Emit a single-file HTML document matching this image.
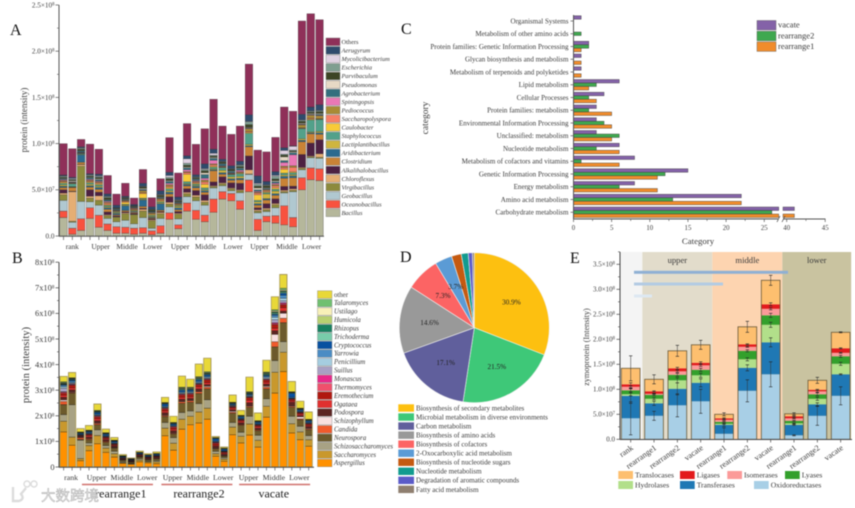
<!DOCTYPE html>
<html lang="en">
<head>
<meta charset="utf-8">
<title>Multi-panel proteomics figure</title>
<style>
html,body{margin:0;padding:0;background:#fff;}
#figure{display:block;width:855px;height:508px;filter:blur(0.4px);font-family:"Liberation Serif","Noto Serif CJK SC",serif;}
text{fill:#3a3a3a;}
</style>
</head>
<body>
<svg id="figure" xmlns="http://www.w3.org/2000/svg" width="855" height="508" viewBox="0 0 855 508">
<rect x="0" y="0" width="855" height="508" fill="#fff"/>
<g id="panelA"></g>
<g id="panelB"></g>
<g id="panelC"></g>
<g id="panelD"></g>
<g id="panelE"></g>
<text x="10" y="35" font-size="16" style="fill:#111">A</text>
<text x="12" y="263" font-size="16" style="fill:#111">B</text>
<text x="401" y="34" font-size="16" style="fill:#111">C</text>
<text x="400" y="262" font-size="16" style="fill:#111">D</text>
<text x="570" y="263" font-size="16" style="fill:#111">E</text>
<text transform="translate(27,120) rotate(-90)" text-anchor="middle" font-size="9">protein (intensity)</text>
<text transform="translate(29,365) rotate(-90)" text-anchor="middle" font-size="10.6">protein (intensity)</text>
<text transform="translate(428,118) rotate(-90)" text-anchor="middle" font-size="9.5">category</text>
<text x="698" y="244" text-anchor="middle" font-size="8.8">Category</text>
<text transform="translate(589,347) rotate(-90)" text-anchor="middle" font-size="8.2">zymoprotein (Intensity)</text>
<g>
<path d="M13 487 L13 501 L19 501 Q25 499 21 494 L26 488" fill="none" stroke="#dcdcdc" stroke-width="2.4"/>
<circle cx="27" cy="484" r="3" fill="none" stroke="#dcdcdc" stroke-width="1.4"/>
<circle cx="34" cy="484" r="3" fill="none" stroke="#dcdcdc" stroke-width="1.4"/>
<text x="41" y="501" font-size="14.5" style="fill:#e6e6e6;stroke:#a8a8a8;stroke-width:.4;font-family:'Noto Sans CJK SC','WenQuanYi Zen Hei',sans-serif">大数跨境</text>
</g>
</svg>
<script>
/* ---------- Panel A data (intensity in units of 1e6) ---------- */
const aSpecies = ["Bacillus","Oceanobacillus","Geobacillus","Virgibacillus","Chloroflexus","Alkalihalobacillus","Clostridium","Aridibacterium","Lactiplantibacillus","Staphylococcus","Caulobacter","Saccharopolyspora","Pediococcus","Spiningopsis","Agrobacterium","Pseudomonas","Parvibaculum","Escherichia","Mycolicibacterium","Aerugyrum","Others"];
const aStacks = [
[20,7,11.5,6,2,3.5,2.5,1.5,1.5,1.5,1,1,1,1,1,.5,1,1,.5,1,34],
[2,6.5,6.5,1,32,.5,4,.5,.5,3,.3,.5,.5,.4,.5,1,1,1,.8,1,31],
[6,12.6,18.8,38,2,.4,2,8,.5,1,.3,.3,.3,.3,1.5,.5,1.5,1,.5,1,8],
[19,11.5,6.5,4,2,7,3,1.5,1.5,1.5,1,1,1,1,1.5,.6,1.2,1,.6,1.1,32],
[9.5,13,11,5,5,4,3,2,1.5,1.5,1,1,1,1,1.5,.8,1.5,1,.7,2,27],
[6,7,6,3,1,3,3,1.5,1,1.5,1,1.5,1,1,1.5,.5,2,1,.5,2.5,20],
[3,7,5.4,5,.5,1,1,1.5,1,.8,.5,.5,.5,.3,1,.3,.8,.3,.2,2.8,12],
[3,6.5,7.6,7,1,1,1.5,5,1,.8,2,1,1,.5,.7,.5,1,.5,.3,1.2,14],
[2,6.5,4.7,10,.5,1,1,1,1,.5,.5,1,.5,.3,.7,.3,.8,.3,.2,1.3,7],
[3,6,11,7,2,1,2,7,1,1,5,1,2,.5,1,1,1.5,.5,.5,3,15],
[1.5,4,3,8,1,1,1,1,1,1,1,.7,1,.3,1,.3,1.5,.5,.2,2.5,10],
[3,8,8,5,1.5,1,1.5,7,1,1,1,1,1.5,.5,1,.5,1.5,.5,.5,4,13],
[18,7,6.5,3,2,6,3,2,1.5,2,1.5,1.5,1.5,1.5,2,1,2,1.5,2,3.5,37.5],
[8,4,6.5,5,1,2,2,2,1.5,1,.7,.8,.7,.5,1,.5,1,.5,.5,3,26],
[27,8.7,7,3,1.5,4,3,1.5,1,2,8,2,1,2,2,1,2,2,5,3,35],
[18,9.7,10.5,4,2,5,3,1.5,1,1.5,1,1,.8,1,1.5,.5,1,.7,.5,2,33],
[15.5,7,11,3,2,6,3,1.5,1,2,4,2.5,2,2,4,2,2,1.5,1,5,38],
[25.6,14.4,12,1.5,1,4,12,1,1,2,1,1.5,1,4,2,1,1.5,1,2,4.5,54],
[40,8,6.5,2,1,6.5,3,1.5,2.5,3,.5,.5,.5,.5,2,.5,1.5,.5,.5,2,36],
[38,8,3,2,1,5.5,3,1.5,2,2.5,.5,.5,.5,.5,1.5,.5,1.5,.5,.5,3,34],
[29,9,9,2,1,7,4,1.5,2,3,.7,.8,.7,1.5,2,.5,1.5,1.5,.5,3.8,38],
[48,12.6,6,.5,4.5,15,10,1,1.5,12,1,1,3,.5,.5,.5,3,3,.5,7,55],
[6,12,7,2,1.5,2,3,1.5,2,1.5,6,2,1,1,1.5,2,2,2,1,8,28],
[15.5,6,5,2,1.5,5,4,1.5,5,1.5,1,1,1,.5,1,.7,2,.8,.5,3.5,32],
[14,8,8.7,3,1.5,5,4,1.5,3,2,1.5,2,1.5,1.5,1.5,1,2,3,1,4,37],
[12,20.6,14,1.5,1.5,4,9,2,1.5,2,4,2,1.5,4,2,4,2,1,4,3,44],
[10,10,28,1.5,1.5,3,9,2,1.5,2,1,5,1.5,12,2,1,1,1,4,.5,37.5],
[50,13,8.7,1.5,1,14,14,1.5,1.5,11,.5,.5,3,.5,.5,1,2,1,.5,6,101],
[61,12.6,11,1,1,14,10,1,1,13,1,1,3,.5,.5,1,1.5,1,.5,4,101],
[60,12.6,11.5,1,4,15,6,1.5,1.5,13,.5,.5,3,.5,1,1,2,1,.5,6,92]
];
const aTickValues = [0,50,100,150,200,250];
const aTickLabels = ["0.0","5.0×10^7","1.0×10^8","1.5×10^8","2.0×10^8","2.5×10^8"];
const aGroupLabels = ["rank","Upper","Middle","Lower","Upper","Middle","Lower","Upper","Middle","Lower"];
const aGroupBarCenters = [1,4.2,7.2,10.1,13.2,16.1,19.2,22.2,25.3,28.1];

/* ---------- Panel B data (intensity in units of 1e6) ---------- */
const bSpecies = ["Aspergillus","Saccharomyces","Schizosaccharomyces","Neurospora","Candida","Schizophyllum","Podospora","Ogataea","Eremothecium","Thermomyces","Monascus","Suillus","Penicillium","Yarrowia","Cryptococcus","Trichoderma","Rhizopus","Humicola","Ustilago","Talaromyces","other"];
const bStacks = [
[137,42,26,39,12,6,10,8,8,4,2,14,6,5,3,2,2,2,2,3,21],
[85,32,126,45,3,2,8,8,10,3,2,3,3,6,4,2,2,1,2,2,20],
[25,8,72,3,6,1,3,2,2,1,1,1,1,2,4,1,1,1,1,1,13],
[64,20,10,13,3,1,6,5,4,2,1,1,1,3,4,2,1,1,1,1,18],
[91,32,22,20,5,2,9,7,7,3,1,2,2,4,6,2,2,1,1,2,25],
[57,17,10,13,3,1,6,4,4,2,1,1,1,3,5,2,1,1,1,1,14],
[39,13,10,12,2,1,5,3,3,2,1,1,1,3,4,1,1,1,1,1,10],
[14,3,3,6,1,1,2,1,2,1,1,1,1,2,2,1,1,.5,.5,.5,4],
[11,2,2,4,1,.5,2,1,1,1,1,.5,.5,1,2,.5,.5,.5,.5,.5,2],
[20,7,5,7,1,.5,3,2,2,1,1,.5,.5,2,3,.5,.5,.5,.5,.5,4],
[16,4,3,6,1,.5,3,2,2,1,1,.5,.5,2,3,.5,.5,.5,.5,.5,4],
[13,7,5,7,1,.5,4,2,2,1,1,.5,.5,2,4,.5,.5,.5,.5,.5,6],
[122,30,22,23,4,2,9,7,7,3,1,2,2,4,8,2,1,1,1,1,20],
[66,27,22,14,3,1,9,6,6,3,1,1,1,3,5,2,1,1,1,1,24],
[148,39,26,36,6,2,8,7,9,3,1,2,3,4,6,3,2,2,2,3,43],
[165,33,21,34,6,2,7,7,8,3,1,2,3,4,5,2,2,2,2,3,31],
[172,43,33,39,7,2,9,8,8,3,1,2,3,5,6,3,2,2,2,3,49],
[187,43,33,42,7,4,6,8,10,3,1,3,3,5,5,3,2,2,2,3,53],
[42,10,9,10,2,1,8,4,6,3,2,1,1,3,8,1,1,1,1,1,4],
[22,9,6,6,1,1,5,3,4,2,1,1,1,2,5,1,1,1,1,1,4],
[126,30,18,36,4,4,6,5,5,2,1,2,2,3,3,2,1,1,1,1,28],
[94,26,16,27,3,1,6,5,5,2,1,1,1,3,5,2,1,1,1,1,19],
[125,43,30,35,4,2,12,10,10,2,1,2,2,4,3,2,2,1,2,2,57],
[78,26,20,18,3,1,6,5,5,2,1,1,1,3,5,2,1,1,1,1,30],
[195,42,30,38,7,4,8,7,8,3,1,3,4,5,3,3,3,2,2,3,46],
[289,81,46,53,20,29,14,10,14,4,3,12,10,8,4,4,3,3,3,4,51],
[373,75,42,74,17,20,8,14,10,4,4,8,10,12,8,4,3,3,3,6,54],
[133,36,29,35,4,2,14,5,6,2,1,1,1,3,16,2,1,1,1,1,40],
[107,30,22,26,3,8,5,5,5,2,1,1,1,3,5,2,1,1,1,1,27],
[81,25,17,23,3,2,7,4,5,2,1,1,1,3,5,2,1,1,1,1,29]
];
const bTickValues = [0,100,200,300,400,500,600,700,800];
const bTickLabels = ["0","1x10^8","2x10^8","3x10^8","4x10^8","5x10^8","6x10^8","7x10^8","8x10^8"];
const bGroupLabels = ["rank","Upper","Middle","Lower","Upper","Middle","Lower","Upper","Middle","Lower"];
const bGroupBarCenters = [1,4,7,10,13,16,19,22,25,28];
const bCohorts = ["rearrange1","rearrange2","vacate"];
const bCohortStartBar = [2.6,12,21.2];
const bCohortEndBar = [11,20.4,29.6];
const bCohortLabelBar = [7.2,16.45,25.3];

/* ---------- Panel C data ---------- */
const cCategories = ["Organismal Systems","Metabolism of other amino acids","Protein families: Genetic Information Processing","Glycan biosynthesis and metabolism","Metabolism of terpenoids and polyketides","Lipid metabolism","Cellular Processes","Protein families: metabolism","Environmental Information Processing","Unclassified: metabolism","Nucleotide metabolism","Metabolism of cofactors and vitamins","Genetic Information Processing","Energy metabolism","Amino acid metabolism","Carbohydrate metabolism"];
const cVacate = [1,0,2,1,1,6,4,3,3,3,6,8,15,8,22,41];
const cRearrange2 = [0,1,2,0,0,3,2,2,4,6,3,1,12,6,13,26];
const cRearrange1 = [0,0,1,1,1,2,3,5,5,5,6,6,11,11,22,41];
const cTickValues = [0,5,10,15,20,25,40,45];
const cMinorTicks = [2.5,7.5,12.5,17.5,22.5,42.5];

/* ---------- Panel D data ---------- */
const dPathways = ["Biosynthesis of secondary metabolites","Microbial metabolism in diverse environments","Carbon metabolism","Biosynthesis of amino acids","Biosynthesis of cofactors","2-Oxocarboxylic acid metabolism","Biosynthesis of nucleotide sugars","Nucleotide metabolism","Degradation of aromatic compounds","Fatty acid metabolism"];
const dShares = [30.9,21.5,17.1,14.6,7.3,3.7,2.1,1.5,0.9,0.4];
const dLabelled = ["30.9%","21.5%","17.1%","14.6%","7.3%","3.7%"];

/* ---------- Panel E data (intensity in units of 1e6) ---------- */
const eSamples = ["rank","rearrange1","rearrange2","vacate","rearrange1","rearrange2","vacate","rearrange1","rearrange2","vacate"];
const eOxidoreductases = [42,47,68,76,11,97,130,8,47,87];
const eTransferases = [45,25,33,37,18,46,64,21,23,43];
const eHydrolases = [3,9,17,15,2,17,35,3,11,21];
const eLyases = [8,8,11,11,4,17,19,5,9,15];
const eIsomerases = [7,2,7,9,4,8,13,5,6,7];
const eLigases = [5,5,6,5,3,5,9,4,3,9];
const eTranslocases = [32,24,35,36,8,35,48,5,19,32];
const eErrOxido = [33,9,23,24,12,22,25,1,19,18];
const eErrTrans = [15,4,12,8,3,6,9,1,3,1];
const eErrHydro = [3,2,5,4,1,3,5,1,3,3];
const eErrLyase = [3,2,3,3,1,2,4,1,3,2];
const eErrIso = [2,1,2,2,1,1,2,1,2,1];
const eErrLigase = [3,1,2,2,1,1,3,1,1,1];
const eErrTransloc = [25,9,11,9,3,11,10,2,6,1];
const eTickValues = [0,50,100,150,200,250,300,350];
const eTickLabels = ["0.0","5.0×10^7","1.0×10^8","1.5×10^8","2.0×10^8","2.5×10^8","3.0×10^8","3.5×10^8"];
const eBands = ["","upper","middle","lower"];

/* ---------- Styling tables ---------- */
const aColors = ["#b5b79b","#f8523f","#b0c8d0","#8c8a3c","#e5ae74","#4d2142","#c98336","#2b6a8f","#cfb53f","#52a18a","#f8ca38","#f77f66","#a98b35","#ea78b5","#336f7e","#e7d9c5","#3c4425","#7f9e90","#e0d2e2","#2f4b6c","#8f3059"];
const bColors = ["#ff9100","#c9982c","#a8a284","#6c5a2c","#f05a2c","#f8dfe0","#5c2422","#e0302f","#b01810","#f0506c","#e8288a","#a8a0c4","#a5cde0","#4a8cc4","#0850a0","#78ccaa","#188060","#b8d070","#f8f0b8","#70c070","#e8d838"];
const dColors = ["#fdc010","#3ec878","#605f9c","#999999","#fc6464","#5b9bd5","#c55a11","#119b8f","#5b5bc8","#8f7f70"];
const eColors = ["#a8cfe6","#1f78b4","#b2df8a","#33a02c","#fb9a99","#e31a1c","#fdbf6f"];
const NS = "http://www.w3.org/2000/svg";
const AX = "#555";

function mk(parent, tag, attrs){
  const el = document.createElementNS(NS, tag);
  for (const k in attrs) el.setAttribute(k, attrs[k]);
  parent.appendChild(el);
  return el;
}
function setLabel(el, str, supSize){
  const parts = String(str).split("^");
  el.appendChild(document.createTextNode(parts[0]));
  if (parts[1]) {
    const s = document.createElementNS(NS, "tspan");
    s.setAttribute("dy", "-2");
    s.setAttribute("font-size", supSize);
    s.textContent = parts[1];
    el.appendChild(s);
  }
}

/* ---------- Panel A ---------- */
(function(){
  const g = document.getElementById("panelA");
  const xA = i => 59.7 + i * 8.83;
  const yA = v => 236 - v * 0.924;
  const w = 7.6;
  aStacks.forEach(function(row, i){
    let cum = 0;
    row.forEach(function(v, s){
      const r = mk(g, "rect", {x:xA(i), y:yA(cum+v), width:w, height:Math.max(0,yA(cum)-yA(cum+v)), fill:aColors[s], stroke:"#2a2a2a", "stroke-width":.25});
      
      
      cum += v;
    });
    const t = mk(g, "line", {x1:xA(i)+w/2, x2:xA(i)+w/2, y1:236, y2:240, stroke:AX, "stroke-width":.7});
    
    
  });
  const xl = mk(g, "line", {x1:59, x2:324, y1:236.3, y2:236.3, stroke:AX, "stroke-width":1});
  
  
  const yl = mk(g, "line", {x1:59, x2:59, y1:yA(250), y2:236.5, stroke:AX, "stroke-width":1});
  
  
  aTickValues.forEach(function(v, i){
    const t = mk(g, "line", {x1:55.5, x2:59, y1:yA(v), y2:yA(v), stroke:AX, "stroke-width":.7});
    
    
    if (i < aTickValues.length - 1) {
      const m = mk(g, "line", {x1:57, x2:59, y1:yA(v+25), y2:yA(v+25), stroke:AX, "stroke-width":.6});
      
      
    }
    const l = mk(g, "text", {x:54.5, y:yA(v)+2.4, "text-anchor":"end", "font-size":7.2});
    
    
    setLabel(l, aTickLabels[i], 4.8);
  });
  aGroupLabels.forEach(function(s, i){
    const l = mk(g, "text", {x:xA(aGroupBarCenters[i])+w/2, y:249, "text-anchor":"middle", "font-size":7.4});
    
    
    l.textContent = s;
  });
  for (let k = aSpecies.length - 1; k >= 0; k--) {
    const row = aSpecies.length - 1 - k;
    const y = 38 + row * 8.55;
    const sw = mk(g, "rect", {x:326, y:y, width:14, height:7.6, fill:aColors[k], stroke:"#777", "stroke-width":.4});
    
    
    const l = mk(g, "text", {x:341.5, y:y+6, "font-size":6.4, "font-style":aSpecies[k]==="Others"?"normal":"italic"});
    
    
    l.textContent = aSpecies[k];
  }
})();

/* ---------- Panel B ---------- */
(function(){
  const g = document.getElementById("panelB");
  const xB = i => 60 + i * 8.45;
  const yB = v => 467 - v * 0.256;
  const w = 7.3;
  bStacks.forEach(function(row, i){
    let cum = 0;
    row.forEach(function(v, s){
      const r = mk(g, "rect", {x:xB(i), y:yB(cum+v), width:w, height:Math.max(0,yB(cum)-yB(cum+v)), fill:bColors[s], stroke:"#111", "stroke-width":.3});
      
      
      cum += v;
    });
    const o = mk(g, "rect", {x:xB(i), y:yB(cum), width:w, height:467-yB(cum), fill:"none", stroke:"#a99a5a", "stroke-width":.8});
    
    
    const t = mk(g, "line", {x1:xB(i)+w/2, x2:xB(i)+w/2, y1:467, y2:470.5, stroke:AX, "stroke-width":.7});
    
    
  });
  const xl = mk(g, "line", {x1:59, x2:314, y1:467.3, y2:467.3, stroke:"#444", "stroke-width":1});
  
  
  const yl = mk(g, "line", {x1:59, x2:59, y1:yB(800), y2:467.5, stroke:"#444", "stroke-width":1});
  
  
  bTickValues.forEach(function(v, i){
    const t = mk(g, "line", {x1:55.5, x2:59, y1:yB(v), y2:yB(v), stroke:"#444", "stroke-width":.7});
    
    
    if (i < bTickValues.length - 1) {
      const m = mk(g, "line", {x1:57, x2:59, y1:yB(v+50), y2:yB(v+50), stroke:"#444", "stroke-width":.6});
      
      
    }
    const l = mk(g, "text", {x:54.5, y:yB(v)+2.8, "text-anchor":"end", "font-size":8.4});
    
    
    setLabel(l, bTickLabels[i], 5.4);
  });
  bGroupLabels.forEach(function(s, i){
    const l = mk(g, "text", {x:xB(bGroupBarCenters[i])+w/2-1, y:480, "text-anchor":"middle", "font-size":7.8});
    
    
    l.textContent = s;
  });
  bCohorts.forEach(function(s, i){
    const ln = mk(g, "line", {x1:xB(bCohortStartBar[i]), x2:xB(bCohortEndBar[i]), y1:484.5, y2:484.5, stroke:"#d0706c", "stroke-width":1.6});
    
    
    const l = mk(g, "text", {x:xB(bCohortLabelBar[i]), y:497.5, "text-anchor":"middle", "font-size":12});
    
    
    l.style.fill = "#222";
    l.textContent = s;
  });
  for (let k = bSpecies.length - 1; k >= 0; k--) {
    const row = bSpecies.length - 1 - k;
    const y = 290.8 + row * 8.42;
    const sw = mk(g, "rect", {x:317.5, y:y, width:14.5, height:7.6, fill:bColors[k], stroke:"#888", "stroke-width":.4});
    
    
    const l = mk(g, "text", {x:334, y:y+6, "font-size":6.8, "font-style":bSpecies[k]==="other"?"normal":"italic"});
    
    
    l.textContent = bSpecies[k];
  }
})();

/* ---------- Panel C ---------- */
(function(){
  const g = document.getElementById("panelC");
  const BREAK_L = 26.9;
  const xC = v => v <= BREAK_L ? 573.5 + v * 7.63 : 786.7 + (v - 40) * 7.7;
  const yC = i => 21 + i * 12.75;
  const H = 3.5;
  const series = [cVacate, cRearrange2, cRearrange1];
  const colors = ["#8462a8","#3fa84f","#f08c2c"];
  const names = ["vacate","rearrange2","rearrange1"];
  cCategories.forEach(function(c, i){
    series.forEach(function(vals, s){
      const v = vals[i];
      const y = yC(i) + (s - 1) * H - H / 2;
      if (v <= 0) return;
      if (v > BREAK_L) {
        const r1 = mk(g, "rect", {x:573.5, y:y, width:xC(BREAK_L)-573.5, height:H, fill:colors[s], stroke:"#3a3a3a", "stroke-width":.4});
        
        
        const r2 = mk(g, "rect", {x:783, y:y, width:xC(v)-783, height:H, fill:colors[s], stroke:"#3a3a3a", "stroke-width":.4});
        
        
      } else {
        const r = mk(g, "rect", {x:573.5, y:y, width:xC(v)-573.5, height:H, fill:colors[s], stroke:"#3a3a3a", "stroke-width":.4});
        
        
      }
    });
    const t = mk(g, "line", {x1:570.5, x2:573.5, y1:yC(i), y2:yC(i), stroke:AX, "stroke-width":.7});
    
    
    const l = mk(g, "text", {x:568.5, y:yC(i)+2.3, "text-anchor":"end", "font-size":7.05});
    
    
    l.textContent = c;
  });
  const yl = mk(g, "line", {x1:573.5, x2:573.5, y1:15, y2:219, stroke:AX, "stroke-width":1});
  
  
  const xl1 = mk(g, "line", {x1:573.5, x2:778, y1:219, y2:219, stroke:AX, "stroke-width":1});
  
  
  const xl2 = mk(g, "line", {x1:783, x2:825.5, y1:219, y2:219, stroke:AX, "stroke-width":1});
  
  
  const s1 = mk(g, "line", {x1:777, x2:780, y1:222, y2:216, stroke:"#444", "stroke-width":.7});
  
  
  const s2 = mk(g, "line", {x1:782, x2:785, y1:222, y2:216, stroke:"#444", "stroke-width":.7});
  
  
  cTickValues.forEach(function(v){
    const t = mk(g, "line", {x1:xC(v), x2:xC(v), y1:219, y2:222, stroke:AX, "stroke-width":.7});
    
    
    const l = mk(g, "text", {x:xC(v), y:230, "text-anchor":"middle", "font-size":6.8});
    
    
    l.textContent = v;
  });
  cMinorTicks.forEach(function(v){
    const t = mk(g, "line", {x1:xC(v), x2:xC(v), y1:219, y2:221, stroke:AX, "stroke-width":.6});
    
    
  });
  names.forEach(function(n, i){
    const y = 20.5 + i * 10.7;
    const sw = mk(g, "rect", {x:757, y:y, width:19, height:9.5, fill:colors[i], stroke:"#555", "stroke-width":.4});
    
    
    const l = mk(g, "text", {x:778, y:y+7.2, "font-size":8.5});
    
    
    l.textContent = n;
  });
})();

/* ---------- Panel D ---------- */
(function(){
  const g = document.getElementById("panelD");
  const cx = 474.3, cy = 327.7, R = 75;
  const total = dShares.reduce((a,b)=>a+b,0);
  let a0 = 0;
  dShares.forEach(function(v, i){
    const a1 = a0 + v / total * 2 * Math.PI;
    const x0 = cx + R * Math.sin(a0), y0 = cy - R * Math.cos(a0);
    const x1 = cx + R * Math.sin(a1), y1 = cy - R * Math.cos(a1);
    const large = (a1 - a0) > Math.PI ? 1 : 0;
    const p = mk(g, "path", {d:"M"+cx+" "+cy+" L"+x0+" "+y0+" A"+R+" "+R+" 0 "+large+" 1 "+x1+" "+y1+" Z", fill:dColors[i], stroke:"#f2f2f2", "stroke-width":.6});
    
    
    a0 = a1;
  });
  a0 = 0;
  dShares.forEach(function(v, i){
    const a1 = a0 + v / total * 2 * Math.PI;
    const mid = (a0 + a1) / 2;
    if (dLabelled[i]) {
      const l = mk(g, "text", {x:cx + 45 * Math.sin(mid), y:cy - 45 * Math.cos(mid) + 2.4, "text-anchor":"middle", "font-size":7.2});
      
      
      l.style.fill = "#222";
      l.textContent = dLabelled[i];
    }
    a0 = a1;
  });
  dPathways.forEach(function(n, i){
    const y = 404.3 + i * 9.04;
    const sw = mk(g, "rect", {x:398.3, y:y, width:15.7, height:7.4, fill:dColors[i]});
    
    
    const l = mk(g, "text", {x:416, y:y+6.1, "font-size":7.05});
    
    
    l.textContent = n;
  });
})();

/* ---------- Panel E ---------- */
(function(){
  const g = document.getElementById("panelE");
  const xE = i => 630.7 + i * 23.33;
  const yE = v => 439.3 - v * 0.5;
  const w = 18.7;
  const bandFill = ["#f4f4f4","#e2dccb","#fdd4b0","#c9c3a0"];
  const bandEdges = [[-0.45,0.5],[0.5,3.5],[3.5,6.5],[6.5,9.45]];
  eBands.forEach(function(s, i){
    const x1 = xE(bandEdges[i][0]), x2 = xE(bandEdges[i][1]);
    const r = mk(g, "rect", {x:x1, y:252, width:x2-x1, height:187.3, fill:bandFill[i]});
    
    
    if (s) {
      const l = mk(g, "text", {x:(x1+x2)/2, y:263, "text-anchor":"middle", "font-size":8.6});
      
      
      l.textContent = s;
    }
  });
  const streakColors = ["#8fb0d4","#b3cbe3","#dde8f2"];
  const streakY = [272.3,284,296];
  const streakEnd = [788,723,652];
  streakColors.forEach(function(c, i){
    const r = mk(g, "rect", {x:634, y:streakY[i]-1.5, width:streakEnd[i]-634, height:3, fill:c});
    
    
  });
  const series = [eOxidoreductases,eTransferases,eHydrolases,eLyases,eIsomerases,eLigases,eTranslocases];
  const errs = [eErrOxido,eErrTrans,eErrHydro,eErrLyase,eErrIso,eErrLigase,eErrTransloc];
  eSamples.forEach(function(name, i){
    let cum = 0;
    series.forEach(function(vals, s){
      const v = vals[i];
      const r = mk(g, "rect", {x:xE(i)-w/2, y:yE(cum+v), width:w, height:yE(cum)-yE(cum+v), fill:eColors[s]});
      
      
      cum += v;
    });
    const o = mk(g, "rect", {x:xE(i)-w/2, y:yE(cum), width:w, height:439.3-yE(cum), fill:"none", stroke:"#6a5a3a", "stroke-width":.8});
    
    
    cum = 0;
    series.forEach(function(vals, s){
      cum += vals[i];
      const e = errs[s][i];
      const lo = Math.max(0, cum - e);
      const ln = mk(g, "line", {x1:xE(i), x2:xE(i), y1:yE(lo), y2:yE(cum+e), stroke:"#333", "stroke-width":.5});
      
      
      const c1 = mk(g, "line", {x1:xE(i)-1.7, x2:xE(i)+1.7, y1:yE(cum+e), y2:yE(cum+e), stroke:"#222", "stroke-width":.6});
      
      
      const c2 = mk(g, "line", {x1:xE(i)-1.7, x2:xE(i)+1.7, y1:yE(lo), y2:yE(lo), stroke:"#222", "stroke-width":.6});
      
      
    });
    const t = mk(g, "line", {x1:xE(i), x2:xE(i), y1:439.3, y2:442.5, stroke:"#444", "stroke-width":.7});
    
    
    const l = mk(g, "text", {"text-anchor":"end", "font-size":8.2, transform:"translate("+(xE(i)+3)+",449) rotate(-35)"});
    
    
    l.textContent = name;
  });
  const xl = mk(g, "line", {x1:620, x2:852, y1:439.5, y2:439.5, stroke:"#444", "stroke-width":1});
  
  
  const yl = mk(g, "line", {x1:620, x2:620, y1:252, y2:439.8, stroke:"#444", "stroke-width":1});
  
  
  eTickValues.forEach(function(v, i){
    const t = mk(g, "line", {x1:616.5, x2:620, y1:yE(v), y2:yE(v), stroke:"#444", "stroke-width":.7});
    
    
    const m = mk(g, "line", {x1:618, x2:620, y1:yE(v+25), y2:yE(v+25), stroke:"#444", "stroke-width":.6});
    
    
    const l = mk(g, "text", {x:615, y:yE(v)+2.4, "text-anchor":"end", "font-size":7});
    
    
    setLabel(l, eTickLabels[i], 4.7);
  });
  const legendNames = ["Translocases","Ligases","Isomerases","Lyases","Hydrolases","Transferases","Oxidoreductases"];
  const legendColorIndex = [6,5,4,3,2,1,0];
  const legendSwatchX = [618.3,680,727.3,785,618.3,680,754];
  legendNames.forEach(function(n, i){
    const y = i < 4 ? 471 : 481;
    const sw = mk(g, "rect", {x:legendSwatchX[i], y:y, width:14.7, height:8, fill:eColors[legendColorIndex[i]]});
    
    
    const l = mk(g, "text", {x:legendSwatchX[i]+16.7, y:y+6.5, "font-size":7.6});
    
    
    l.textContent = n;
  });
})();
</script>
</body>
</html>
